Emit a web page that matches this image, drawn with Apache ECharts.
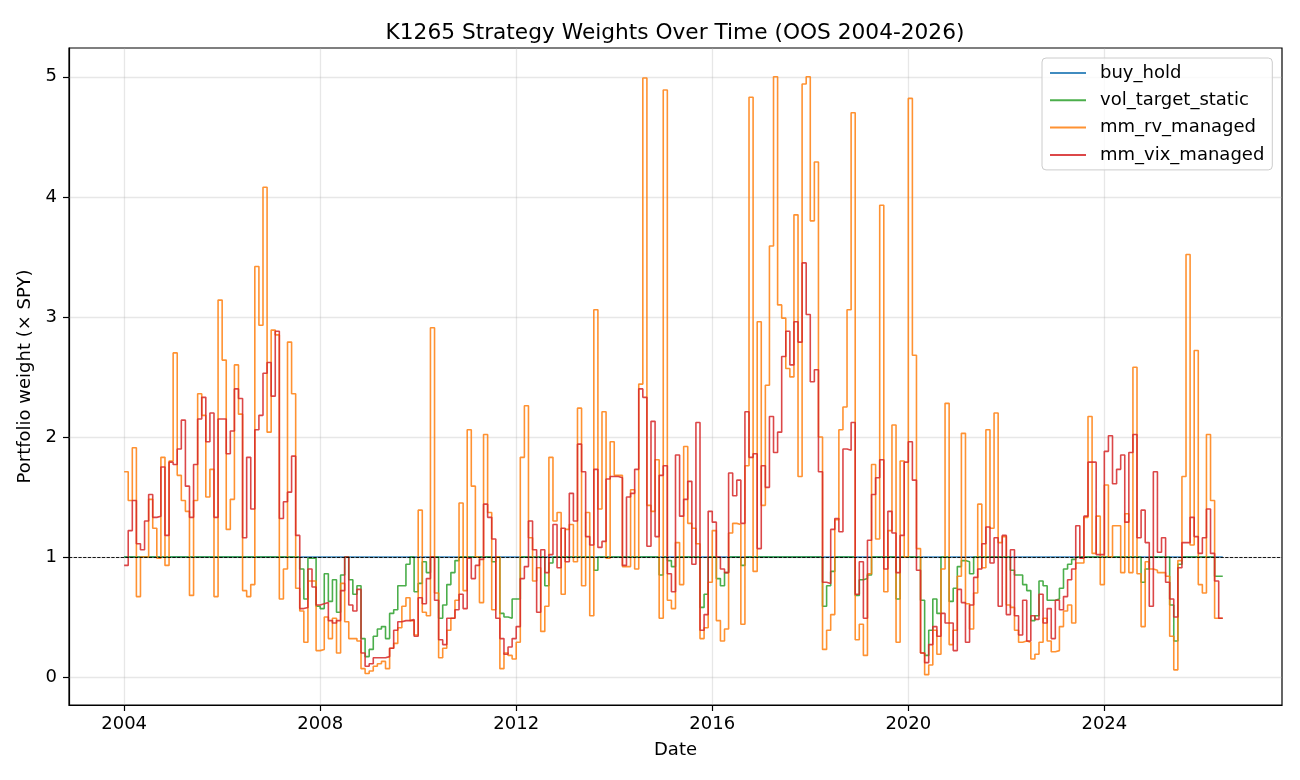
<!DOCTYPE html>
<html><head><meta charset="utf-8">
<script src="https://cdn.jsdelivr.net/npm/echarts@6/dist/echarts.min.js"></script>
<style>html,body{margin:0;padding:0;background:#fff}#c{width:1300px;height:780px}</style>
</head><body><div id="c"></div>
<script>
// Monthly observations starting January 2004
const startYear = 2004;
const xTickLabels = [2004, 2008, 2012, 2016, 2020, 2024];
const yTickLabels = [0, 1, 2, 3, 4, 5];
const seriesNames = ['buy_hold', 'vol_target_static', 'mm_rv_managed', 'mm_vix_managed'];

const buyHold = [
1,1,1,1,1,1,1,1,1,1,1,1,1,1,1,1,1,1,1,1,1,1,1,1,1,1,1,1,1,1,
1,1,1,1,1,1,1,1,1,1,1,1,1,1,1,1,1,1,1,1,1,1,1,1,1,1,1,1,1,1,
1,1,1,1,1,1,1,1,1,1,1,1,1,1,1,1,1,1,1,1,1,1,1,1,1,1,1,1,1,1,
1,1,1,1,1,1,1,1,1,1,1,1,1,1,1,1,1,1,1,1,1,1,1,1,1,1,1,1,1,1,
1,1,1,1,1,1,1,1,1,1,1,1,1,1,1,1,1,1,1,1,1,1,1,1,1,1,1,1,1,1,
1,1,1,1,1,1,1,1,1,1,1,1,1,1,1,1,1,1,1,1,1,1,1,1,1,1,1,1,1,1,
1,1,1,1,1,1,1,1,1,1,1,1,1,1,1,1,1,1,1,1,1,1,1,1,1,1,1,1,1,1,
1,1,1,1,1,1,1,1,1,1,1,1,1,1,1,1,1,1,1,1,1,1,1,1,1,1,1,1,1,1,
1,1,1,1,1,1,1,1,1,1,1,1,1,1,1,1,1,1,1,1,1,1,1,1,1,1,1,1,1,1
];

const volTargetStatic = [
1,1,1,1,1,1,1,1,1,1,1,1,1,1,1,1,1,1,1,1,1,1,1,1,
1,1,1,1,1,1,1,1,1,1,1,1,1,1,1,1,1,1,1,0.9,0.65,0.99,0.99,0.59,
0.57,0.86,0.63,0.81,0.54,0.85,1,0.81,0.69,0.76,0.32,0.17,0.23,0.34,0.4,0.42,0.32,0.53,0.56,0.76,0.76,0.94,1,0.71,
0.78,0.96,0.87,1,1,0.49,0.6,0.77,0.87,0.97,1,1,1,1,1,1,1,1,0.96,1,0.53,0.5,0.49,0.65,
0.65,1,1,1,1,1,1,0.76,0.95,1,1,1,1,1,1,1,1,1,1,0.89,1,1,1,1,1,
1,1,1,1,1,1,1,1,1,1,0.85,1,0.97,0.92,1,1,1,1,1,1,0.58,0.69,1,1,0.82,
0.76,0.87,1,1,1,0.93,1,1,1,1,1,1,1,1,1,1,1,1,1,1,1,1,1,1,
1,0.59,0.76,0.88,1,1,1,1,1,0.68,0.81,0.82,0.85,1,1,1,1,1,1,0.65,1,1,1,1,1,
0.64,0.18,0.39,0.65,0.53,1,1,0.63,0.74,0.92,0.97,0.96,0.86,1,1,1,1,1,1,1,1,1,0.89,0.85,
0.85,0.77,0.72,0.47,0.51,0.8,0.76,0.64,0.64,0.65,0.74,0.9,0.94,0.98,1,1,1,1,1,1,1,1,1,1,
1,1,1,1,1,1,0.79,0.9,1,1,1,1,1,0.6,0.3,0.94,1,1,1,1,1,1,1,1,0.84,0.84,0.84
];

const mmRvManaged = [
1.71,1.47,1.91,0.67,1.0,1.0,1.48,1.24,0.99,1.83,0.93,1.8,2.7,1.68,1.47,1.38,0.68,1.47,2.36,2.18,1.5,1.73,0.67,3.14,
2.64,1.23,1.48,2.6,2.19,0.72,0.67,0.77,3.42,2.93,4.08,2.04,2.89,2.85,0.65,0.9,2.79,2.36,0.74,0.55,0.29,0.8,0.8,0.22,
0.23,0.5,0.32,0.49,0.2,0.78,0.46,0.32,0.32,0.3,0.07,0.03,0.05,0.09,0.11,0.13,0.07,0.24,0.28,0.41,0.59,0.66,0.47,0.35,
1.39,0.54,0.51,2.91,0.7,0.16,0.24,0.39,0.49,0.64,1.45,0.72,2.06,1.59,1.0,0.62,2.02,1.37,0.56,1.0,0.07,0.2,0.18,0.15,
0.29,1.83,2.26,1.16,0.8,0.91,0.38,0.59,1.83,1.3,1.37,0.69,1.23,1.27,0.96,2.24,0.76,1.37,0.51,3.06,1.4,2.21,0.99,1.96,1.68,
1.68,0.92,0.92,1.56,0.9,2.44,4.99,1.43,1.38,1.81,0.49,4.89,0.64,0.57,1.12,0.77,1.92,1.28,1.24,1.11,0.32,0.41,0.79,1.22,0.47,
0.3,0.4,1.2,1.28,1.27,0.44,1.76,4.83,0.88,2.96,1.43,2.43,3.59,5.0,3.1,2.99,2.57,2.5,3.85,1.67,4.94,5.0,3.8,4.29,
2.0,0.23,0.39,0.52,1.31,2.06,2.25,3.06,4.7,0.31,0.44,0.18,0.86,1.77,1.15,3.93,0.71,1.22,2.1,0.29,1.8,1.0,4.82,2.68,1.07,
0.2,0.02,0.1,0.39,0.19,0.9,2.28,0.27,0.39,0.84,2.03,0.61,0.4,0.7,1.44,0.91,2.06,1.24,2.2,1.12,1.17,0.6,0.58,0.39,
0.29,0.3,0.29,0.15,0.19,0.29,0.49,0.3,0.21,0.22,0.42,0.55,0.6,0.45,0.95,0.95,1.33,2.17,1.03,1.34,0.77,1.6,1.0,1.26,
1.26,0.87,1.36,0.87,2.58,0.86,0.42,0.96,0.9,0.89,0.87,0.87,0.84,0.34,0.06,0.97,1.67,3.52,1.1,2.72,0.77,0.7,2.02,1.47,0.49,0.49,0.49
];

const mmVixManaged = [
0.93,1.22,1.47,1.11,1.06,1.3,1.52,1.33,1.34,1.75,1.18,1.79,1.77,1.9,2.14,1.59,1.33,1.77,2.15,2.33,1.96,2.2,1.33,2.15,
2.15,1.86,2.05,2.4,2.32,1.16,1.83,1.4,2.06,2.18,2.53,2.62,2.34,2.88,1.32,1.46,1.54,1.84,1.18,0.57,0.58,0.9,0.75,0.6,
0.61,0.62,0.47,0.45,0.47,0.72,1.0,0.6,0.55,0.73,0.2,0.09,0.11,0.16,0.16,0.16,0.17,0.24,0.39,0.46,0.47,0.47,0.48,0.34,
0.66,0.61,0.82,1.0,0.64,0.31,0.27,0.49,0.49,0.56,0.69,0.57,0.99,0.82,0.93,0.98,1.44,1.33,1.15,0.49,0.32,0.19,0.25,0.32,
0.42,0.82,0.92,1.3,1.06,0.54,1.06,0.87,1.02,1.27,0.91,1.24,0.96,1.53,1.3,1.94,1.71,1.17,1.1,1.73,1.08,1.13,1.65,1.67,1.67,
1.66,0.93,1.5,1.53,1.73,2.4,2.33,1.09,2.13,1.17,1.68,1.76,0.86,0.71,1.85,1.34,1.48,1.63,0.94,2.12,0.39,0.52,1.38,1.29,1.0,
0.9,0.87,1.7,1.51,1.64,1.28,2.21,1.83,1.86,1.07,1.76,1.58,2.17,1.87,2.04,2.67,2.88,2.6,2.96,2.79,3.45,3.02,2.46,2.56,
1.71,0.79,0.78,1.23,1.32,1.21,1.9,1.89,2.12,0.69,0.96,0.49,1.14,1.52,1.66,1.81,0.9,1.38,1.2,0.87,1.18,1.79,1.96,1.64,0.89,
0.2,0.12,0.27,0.42,0.34,0.53,0.45,0.45,0.22,0.73,0.62,0.29,0.6,0.83,0.9,1.11,1.25,0.95,1.16,0.59,1.18,0.52,1.06,0.51,
0.35,0.64,0.3,0.51,0.48,0.69,0.45,0.57,0.32,0.64,0.56,0.67,0.81,0.9,1.26,0.99,1.34,1.79,1.79,1.02,1.02,1.88,2.01,1.61,
1.73,1.85,1.29,1.87,2.02,1.16,1.39,1.12,0.59,1.71,1.04,1.16,0.79,0.65,0.5,0.91,1.12,1.12,1.33,1.17,1.03,1.16,1.4,1.03,0.8,0.49,0.49
];

const dates = buyHold.map((_, i) => startYear + i / 12);
const toPairs = arr => arr.map((v, i) => [dates[i], v]);
const colors = ['#1f77b4', '#2ca02c', '#ff7f0e', '#d62728'];
const FONT = 'DejaVu Sans';

function lineSeries(name, arr, color, extra) {
  return Object.assign({
    name: name, type: 'line', step: 'end', data: toPairs(arr),
    showSymbol: false, symbol: 'none',
    lineStyle: { color: color, width: 1.6, opacity: 0.85 },
    itemStyle: { color: color },
    emphasis: { disabled: true }, animation: false
  }, extra || {});
}

const chart = echarts.init(document.getElementById('c'), null, { renderer: 'canvas' });
chart.setOption({
  backgroundColor: '#ffffff',
  animation: false,
  title: {
    text: 'K1265 Strategy Weights Over Time (OOS 2004-2026)',
    left: 670, top: 17, textAlign: 'center',
    textStyle: { fontFamily: FONT, fontSize: 21.7, fontWeight: 'normal', color: '#000' }
  },
  legend: {
    data: seriesNames, orient: 'vertical', left: 1042, top: 58,
    padding: [6, 8, 6, 7], itemWidth: 36, itemHeight: 18, itemGap: 9.3,
    itemStyle: { opacity: 0 },
    backgroundColor: 'rgba(255,255,255,0.8)', borderColor: '#cccccc', borderWidth: 1, borderRadius: 4,
    textStyle: { fontFamily: FONT, fontSize: 18, color: '#000', padding: [0, 0, 0, 9] }
  },
  grid: { left: 69, right: 18, top: 48, bottom: 75, show: true, borderColor: '#000', borderWidth: 1.2, backgroundColor: 'transparent' },
  xAxis: {
    type: 'value', min: 2002.875, max: 2027.625,
    axisLine: { show: true, onZero: false, lineStyle: { color: '#000', width: 1.2 } },
    axisTick: { show: true, customValues: xTickLabels, length: 6, lineStyle: { color: '#000', width: 1.2 } },
    axisLabel: { customValues: xTickLabels, color: '#000', fontSize: 18, fontFamily: FONT, margin: 10, formatter: v => String(v) },
    splitLine: { show: false },
    name: 'Date', nameLocation: 'middle', nameGap: 36,
    nameTextStyle: { fontFamily: FONT, fontSize: 18, color: '#000' }
  },
  yAxis: {
    type: 'value', min: -0.233, max: 5.24,
    axisLine: { show: true, onZero: false, lineStyle: { color: '#000', width: 1.2 } },
    axisTick: { show: true, customValues: yTickLabels, length: 6, lineStyle: { color: '#000', width: 1.2 } },
    axisLabel: { customValues: yTickLabels, color: '#000', fontSize: 18, fontFamily: FONT, margin: 12, formatter: v => String(v) },
    splitLine: { show: false },
    name: 'Portfolio weight (× SPY)', nameLocation: 'middle', nameGap: 31,
    nameTextStyle: { fontFamily: FONT, fontSize: 18, color: '#000' }
  },
  series: [
    lineSeries(seriesNames[0], buyHold, colors[0], {
      markLine: {
        silent: true, symbol: 'none', z: 1, animation: false, label: { show: false },
        emphasis: { disabled: true },
        lineStyle: { color: '#b0b0b0', opacity: 0.3, width: 1.3, type: 'solid' },
        data: xTickLabels.map(v => ({ xAxis: v })).concat(yTickLabels.map(v => ({ yAxis: v })))
      }
    }),
    lineSeries(seriesNames[1], volTargetStatic, colors[1]),
    lineSeries(seriesNames[2], mmRvManaged, colors[2]),
    lineSeries(seriesNames[3], mmVixManaged, colors[3], {
      markLine: {
        silent: true, symbol: 'none', z: 10, animation: false, label: { show: false },
        emphasis: { disabled: true },
        lineStyle: { color: '#000', opacity: 1, width: 0.9, type: [3.3, 1.4] },
        data: [{ yAxis: 1 }]
      }
    })
  ]
});
</script>
</body></html>
